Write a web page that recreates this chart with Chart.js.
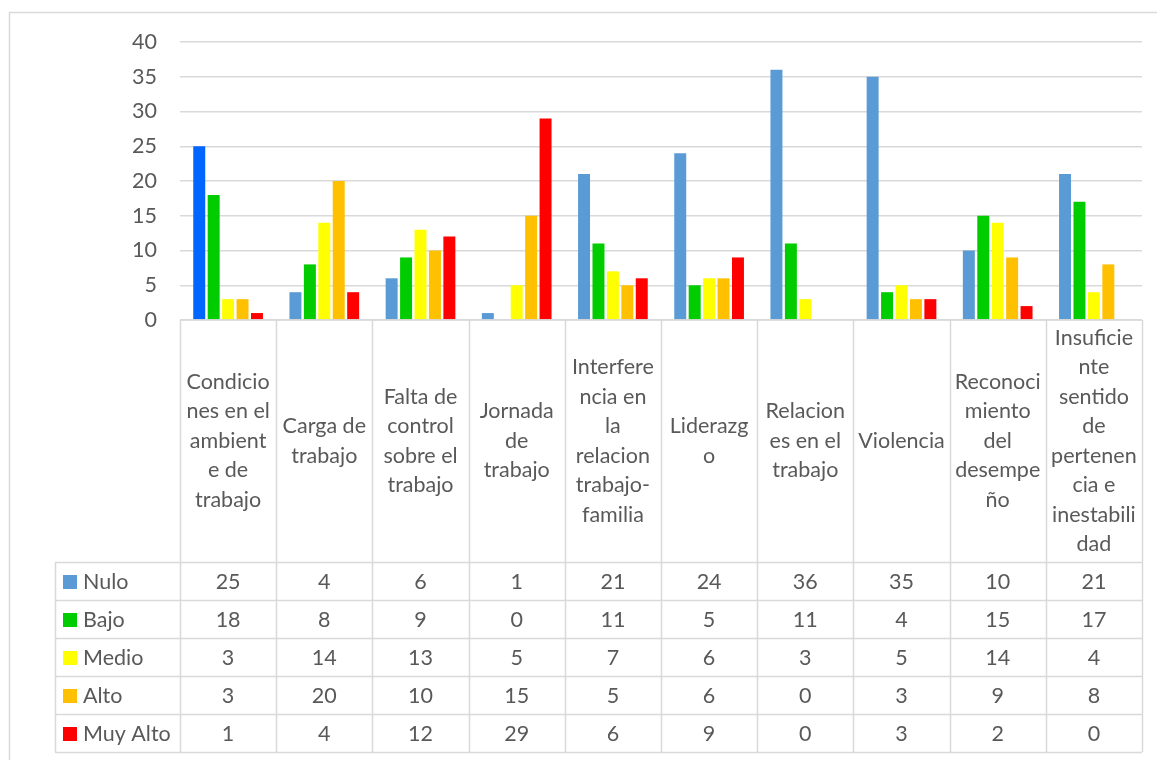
<!DOCTYPE html>
<html>
<head>
<meta charset="utf-8">
<script src="https://cdn.jsdelivr.net/npm/chart.js@4.4.0/dist/chart.umd.min.js"></script>
<style>
  html, body { margin: 0; padding: 0; background: #fff; }
  #wrap { width: 1157px; height: 760px; }
</style>
</head>
<body>
<div id="wrap"><canvas id="chart" width="1157" height="760"></canvas></div>
<script>
// categories, already broken into the lines shown in the table header
const categories = [
  ["Condicio", "nes en el", "ambient", "e de", "trabajo"],
  ["Carga de", "trabajo"],
  ["Falta de", "control", "sobre el", "trabajo"],
  ["Jornada", "de", "trabajo"],
  ["Interfere", "ncia en", "la", "relacion", "trabajo-", "familia"],
  ["Liderazg", "o"],
  ["Relacion", "es en el", "trabajo"],
  ["Violencia"],
  ["Reconoci", "miento", "del", "desempe", "ño"],
  ["Insuficie", "nte", "sentido", "de", "pertenen", "cia e", "inestabili", "dad"],
];
const seriesNames = ["Nulo", "Bajo", "Medio", "Alto", "Muy Alto"];
const nulo = [25, 4, 6, 1, 21, 24, 36, 35, 10, 21];
const bajo = [18, 8, 9, 0, 11, 5, 11, 4, 15, 17];
const medio = [3, 14, 13, 5, 7, 6, 3, 5, 14, 4];
const alto = [3, 20, 10, 15, 5, 6, 0, 3, 9, 8];
const muyAlto = [1, 4, 12, 29, 6, 9, 0, 3, 2, 0];
const yTicks = [0, 5, 10, 15, 20, 25, 30, 35, 40];

const FONT = 'Lato, "Open Sans", sans-serif';
const FSIZE = 21.5;
const TEXT = "#595959";
const LINE = "#D9D9D9";
const colors = ["#5B9BD5", "#00CC00", "#FFFF00", "#FFC000", "#FF0000"];
const seriesValues = [nulo, bajo, medio, alto, muyAlto];

// header 320..562, then five rows of 38px
const tableLayout = { headerBottom: 562, rowH: 38, legendLeft: 55 };

const dataTable = {
  id: "dataTable",
  afterDraw(chart) {
    const ctx = chart.ctx;
    const area = chart.chartArea;
    const x = chart.scales.x;
    const top = area.bottom;
    const hb = tableLayout.headerBottom;
    const rh = tableLayout.rowH;
    const bottom = hb + rh * seriesNames.length;
    const colW = (area.right - area.left) / categories.length;
    ctx.save();

    // outer chart frame (only top and left visible)
    ctx.strokeStyle = LINE;
    ctx.lineWidth = 1.5;
    ctx.beginPath();
    ctx.moveTo(9.5, 760);
    ctx.lineTo(9.5, 12.5);
    ctx.lineTo(1157, 12.5);
    ctx.stroke();

    // table grid
    ctx.beginPath();
    ctx.moveTo(area.left, top);
    ctx.lineTo(area.right, top);
    for (let i = 0; i <= categories.length; i++) {
      const cx = Math.round(area.left + i * colW) + 0.5;
      ctx.moveTo(cx, top);
      ctx.lineTo(cx, bottom);
    }
    for (let r = 0; r <= seriesNames.length; r++) {
      const y = hb + r * rh + 0.5;
      ctx.moveTo(tableLayout.legendLeft, y);
      ctx.lineTo(area.right, y);
    }
    ctx.moveTo(tableLayout.legendLeft + 0.5, hb);
    ctx.lineTo(tableLayout.legendLeft + 0.5, bottom);
    ctx.stroke();

    // header labels
    ctx.fillStyle = TEXT;
    ctx.font = FSIZE + "px " + FONT;
    ctx.textAlign = "center";
    ctx.textBaseline = "middle";
    const mid = (top + hb) / 2;
    const lh = 29.5;
    categories.forEach((lines, i) => {
      const cx = x.getPixelForValue(i);
      lines.forEach((t, j) => {
        ctx.fillText(t, cx, mid + (j - (lines.length - 1) / 2) * lh);
      });
    });

    // values + legend keys
    seriesNames.forEach((name, r) => {
      const cy = hb + r * rh + rh / 2 + 1;
      ctx.fillStyle = colors[r];
      ctx.fillRect(63, cy - 7, 14, 14);
      ctx.fillStyle = TEXT;
      ctx.textAlign = "left";
      ctx.fillText(name, 83, cy);
      ctx.textAlign = "center";
      seriesValues[r].forEach((v, i) => {
        ctx.fillText(String(v), x.getPixelForValue(i), cy);
      });
    });
    ctx.restore();
  },
};

const nuloColors = nulo.map((v, i) => (i === 0 ? "#0066FF" : colors[0]));

new Chart(document.getElementById("chart"), {
  type: "bar",
  data: {
    labels: categories.map((l) => l.join(" ")),
    datasets: seriesNames.map((name, r) => ({
      label: name,
      data: seriesValues[r],
      backgroundColor: r === 0 ? nuloColors : colors[r],
      categoryPercentage: 0.75,
      barPercentage: 0.83,
    })),
  },
  options: {
    responsive: false,
    animation: false,
    layout: { padding: { left: 0, right: 15, top: 42, bottom: 440 } },
    plugins: {
      legend: { display: false },
      tooltip: { enabled: false },
    },
    scales: {
      x: { display: false },
      y: {
        min: 0,
        max: 40,
        afterFit: (scale) => { scale.width = 180; },
        afterBuildTicks: (scale) => {
          scale.ticks = yTicks.map((v) => ({ value: v }));
        },
        border: { display: false },
        grid: { color: LINE, lineWidth: 1.5, drawTicks: false },
        ticks: {
          padding: 23,
          color: TEXT,
          font: { family: FONT, size: FSIZE },
        },
      },
    },
  },
  plugins: [dataTable],
});
</script>
</body>
</html>
